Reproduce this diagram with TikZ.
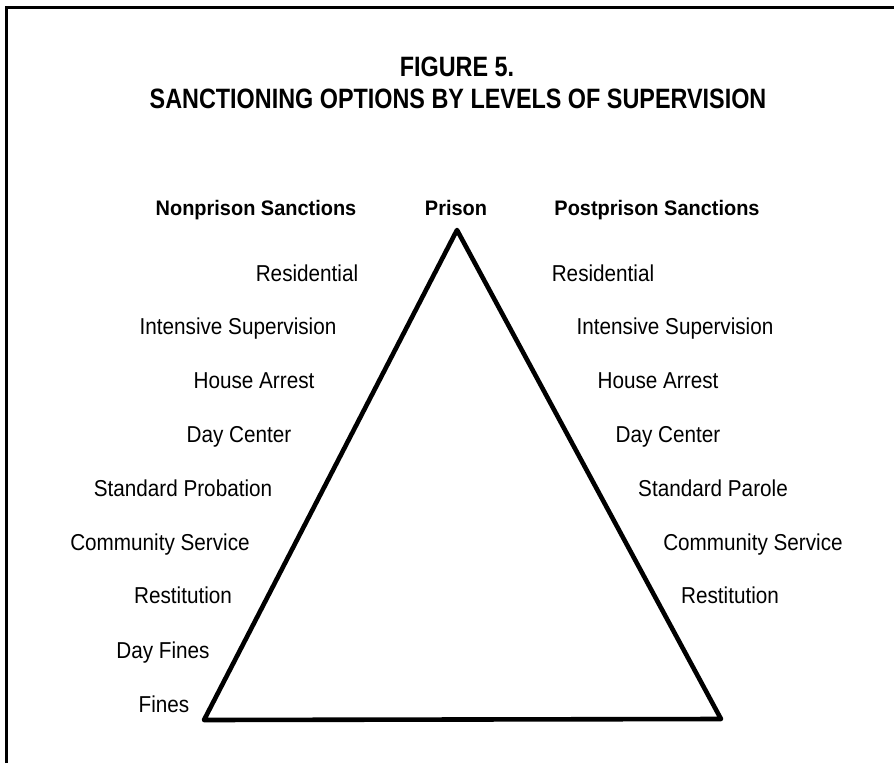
\documentclass[tikz,border=0pt]{standalone}
\usepackage{fontspec}
\newfontfamily\lblfont{Liberation Sans}[FakeStretch=0.9]
\newfontfamily\hdrfont{Liberation Sans}[FakeStretch=0.95]
\newfontfamily\ttlfont{Liberation Sans}[FakeStretch=0.835]
\begin{document}
\begin{tikzpicture}[x=1pt,y=-1pt,
  lbl/.style={anchor=base,inner sep=0pt,font=\lblfont\fontsize{23}{23}\selectfont},
  hdr/.style={anchor=base,inner sep=0pt,font=\hdrfont\bfseries\fontsize{21}{21}\selectfont},
  ttl/.style={anchor=base,inner sep=0pt,font=\ttlfont\bfseries\fontsize{28}{28}\selectfont},
  frame/.style={line width=3pt},
  tri/.style={line width=4.6pt,line join=round}]
\useasboundingbox (0,0) rectangle (894,763);
% frame
\coordinate (fbl) at (6.5,763);
\coordinate (ftl) at (6.5,7.5);
\coordinate (ftr) at (894,7.5);
\draw[frame] (fbl) -- (ftl) -- (ftr);
% title
\node[ttl] (fig) at (457,76) {FIGURE 5.};
\node[ttl] (title) at (458,108) {SANCTIONING OPTIONS BY LEVELS OF SUPERVISION};
% headers
\node[hdr] (nonp) at (256,215) {Nonprison Sanctions};
\node[hdr] (prison) at (456,215) {Prison};
\node[hdr] (postp) at (657,215) {Postprison Sanctions};
% triangle
\coordinate (apex) at (457,230);
\coordinate (bl) at (204,720);
\coordinate (br) at (721,719);
\draw[tri] (apex) -- (bl) -- (br) -- cycle;
% left column
\node[lbl] (l1) at (307,281) {Residential};
\node[lbl] (l2) at (238,334) {Intensive Supervision};
\node[lbl] (l3) at (254,388) {House Arrest};
\node[lbl] (l4) at (239,442) {Day Center};
\node[lbl] (l5) at (183,496) {Standard Probation};
\node[lbl] (l6) at (160,550) {Community Service};
\node[lbl] (l7) at (183,603) {Restitution};
\node[lbl] (l8) at (163,658) {Day Fines};
\node[lbl] (l9) at (164,712) {Fines};
% right column
\node[lbl] (r1) at (603,281) {Residential};
\node[lbl] (r2) at (675,334) {Intensive Supervision};
\node[lbl] (r3) at (658,388) {House Arrest};
\node[lbl] (r4) at (668,442) {Day Center};
\node[lbl] (r5) at (713,496) {Standard Parole};
\node[lbl] (r6) at (753,550) {Community Service};
\node[lbl] (r7) at (730,603) {Restitution};
\end{tikzpicture}
\end{document}
